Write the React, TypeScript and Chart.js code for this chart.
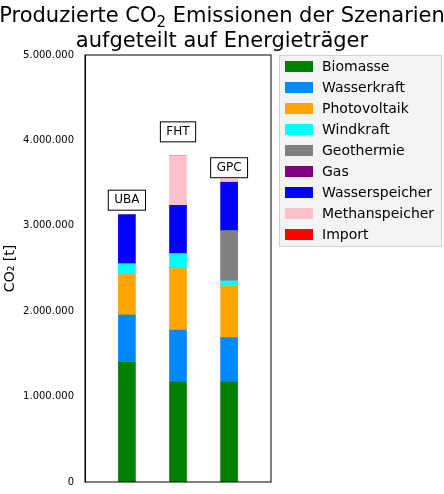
import React, { useEffect, useRef } from "react";
import { Chart, registerables } from "chart.js";
Chart.register(...registerables);

const scenarios = ["UBA", "FHT", "GPC"];
const labelPos = [3300000, 4100000, 3680000];
const seriesNames = ["Biomasse", "Wasserkraft", "Photovoltaik", "Windkraft", "Geothermie", "Gas", "Wasserspeicher", "Methanspeicher", "Import"];
const seriesColors = ["#008000", "#0088ff", "#ffa500", "#00ffff", "#808080", "#800080", "#0000ff", "#ffc0cb", "#ff0000"];
const biomasse = [1400000, 1170000, 1170000];
const wasserkraft = [555000, 610000, 520000];
const photovoltaik = [475000, 720000, 600000];
const windkraft = [125000, 175000, 65000];
const geothermie = [0, 0, 590000];
const gas = [0, 0, 0];
const wasserspeicher = [575000, 565000, 565000];
const methanspeicher = [0, 580000, 35000];
const importe = [0, 0, 0];
const seriesValues = [biomasse, wasserkraft, photovoltaik, windkraft, geothermie, gas, wasserspeicher, methanspeicher, importe];
const yTicks = [0, 1000000, 2000000, 3000000, 4000000, 5000000];

const fmt = (v: number) => v.toLocaleString("de-DE");

export default function App() {
  const ref = useRef<HTMLCanvasElement>(null);
  useEffect(() => {
    const font = "DejaVu Sans";
    const plugin = {
      id: "extras",
      afterDraw(chart: any) {
        const ctx = chart.ctx;
        const a = chart.chartArea;
        ctx.save();
        ctx.strokeStyle = "#000";
        ctx.lineWidth = 1;
        ctx.strokeRect(a.left, a.top, a.right - a.left, a.bottom - a.top);
        ctx.fillStyle = "#000";
        ctx.textBaseline = "alphabetic";
        const p1 = "Produzierte CO", p2 = " Emissionen der Szenarien";
        ctx.font = `21px ${font}`;
        const w1 = ctx.measureText(p1).width, w3 = ctx.measureText(p2).width;
        ctx.font = `15px ${font}`;
        const w2 = ctx.measureText("2").width;
        const x = 222 - (w1 + w2 + w3) / 2;
        ctx.textAlign = "left";
        ctx.font = `21px ${font}`;
        ctx.fillText(p1, x, 22);
        ctx.font = `15px ${font}`;
        ctx.fillText("2", x + w1, 27);
        ctx.font = `21px ${font}`;
        ctx.fillText(p2, x + w1 + w2, 22);
        ctx.textAlign = "center";
        ctx.fillText("aufgeteilt auf Energieträger", 222, 47);
        ctx.font = `12px ${font}`;
        ctx.textBaseline = "middle";
        scenarios.forEach((s, i) => {
          const cx = chart.scales.x.getPixelForValue(i);
          const cy = chart.scales.y.getPixelForValue(labelPos[i]);
          const w = ctx.measureText(s).width + 12;
          ctx.fillStyle = "#fff";
          ctx.fillRect(cx - w / 2, cy - 10, w, 20);
          ctx.strokeRect(cx - w / 2, cy - 10, w, 20);
          ctx.fillStyle = "#000";
          ctx.fillText(s, cx, cy);
        });
        ctx.fillStyle = "#f4f4f4";
        ctx.strokeStyle = "#d0d0d0";
        ctx.fillRect(279.5, 55.5, 162, 191);
        ctx.strokeRect(279.5, 55.5, 162, 191);
        ctx.font = `14px ${font}`;
        ctx.textAlign = "left";
        seriesNames.forEach((n, i) => {
          const y = 66 + i * 21;
          ctx.fillStyle = seriesColors[i];
          ctx.fillRect(285, y - 5, 28, 11);
          ctx.fillStyle = "#000";
          ctx.fillText(n, 322, y + 1);
        });
        ctx.restore();
      },
    };
    const chart = new Chart(ref.current!, {
      type: "bar",
      data: {
        datasets: seriesNames.map((n, k) => ({
          label: n,
          data: seriesValues[k].map((v, i) => ({ x: i, y: v })),
          backgroundColor: seriesColors[k],
          barThickness: 17,
        })),
      },
      options: {
        animation: false,
        responsive: false,
        layout: { padding: { top: 55, right: 173, bottom: 12, left: 0 } },
        plugins: { legend: { display: false }, tooltip: { enabled: false } },
        scales: {
          x: { type: "linear", stacked: true, offset: false, min: -0.82, max: 2.82, display: false },
          y: {
            stacked: true,
            min: 0,
            max: 5000000,
            afterBuildTicks: (s: any) => { s.ticks = yTicks.map((v) => ({ value: v })); },
            afterFit: (s: any) => { s.width = 85; },
            grid: { display: false },
            border: { display: true, color: "#000" },
            ticks: { color: "#000", font: { family: font, size: 10 }, callback: (v: any) => fmt(Number(v)) },
            title: { display: true, text: "CO₂ [t]", color: "#000", font: { family: font, size: 14 }, padding: 2 },
          },
        },
      },
      plugins: [plugin],
    } as any);
    return () => chart.destroy();
  }, []);
  return (
    <div style={{ position: "fixed", left: 0, top: 0, background: "#fff" }}>
      <canvas ref={ref} width={444} height={494} style={{ width: 444, height: 494 }} />
    </div>
  );
}
